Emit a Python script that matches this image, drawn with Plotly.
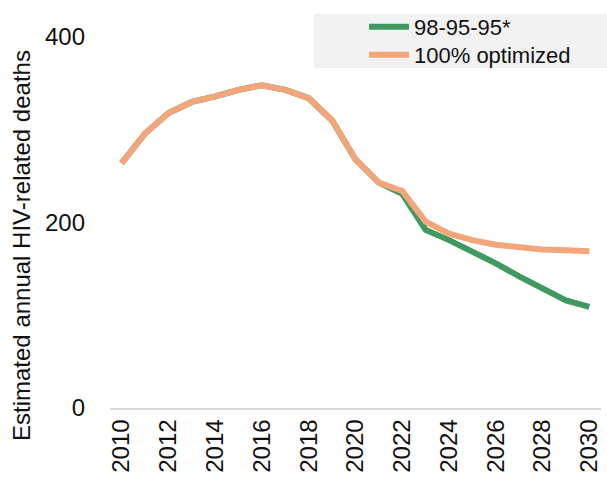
import plotly.graph_objects as go

years = list(range(2010, 2031))
target_989595 = [264, 296, 318, 330, 336, 343, 348, 343, 334, 310, 268, 243, 231,
                 192, 181, 169, 156, 142, 129, 116, 109]
optimized_100 = [264, 296, 318, 330, 336, 343, 348, 343, 334, 310, 268, 243, 234,
                 201, 188, 181, 176, 173, 171, 170, 169]
series_names = ["98-95-95*", "100% optimized"]
y_title = "Estimated annual HIV-related deaths"
x_ticks = list(range(2010, 2031, 2))
y_ticks = [0, 200, 400]

GREEN = "#409A5F"
ORANGE = "#F3A67C"
FONT = "Liberation Sans, Arial, sans-serif"

L, R, T, B = 110, 6, 37, 72
PW, PH = 607 - L - R, 480 - T - B


def px_x(p):
    return (p - L) / PW


def px_y(p):
    return (480 - B - p) / PH


fig = go.Figure()
fig.add_trace(go.Scatter(x=years, y=target_989595, mode="lines", name=series_names[0],
                         line=dict(color=GREEN, width=6), legend="legend"))
fig.add_trace(go.Scatter(x=years, y=optimized_100, mode="lines", name=series_names[1],
                         line=dict(color=ORANGE, width=6), legend="legend2"))

leg_common = dict(xanchor="left", yanchor="middle", bgcolor="rgba(0,0,0,0)",
                  font=dict(size=22, family=FONT), itemwidth=40, borderwidth=0)

fig.update_layout(
    width=607, height=480,
    margin=dict(l=L, r=R, t=T, b=B),
    paper_bgcolor="white", plot_bgcolor="white",
    font=dict(family=FONT, size=24, color="#111111"),
    showlegend=True,
    legend=dict(x=px_x(364), y=px_y(27), **leg_common),
    legend2=dict(x=px_x(364), y=px_y(55), **leg_common),
    shapes=[dict(type="rect", xref="paper", yref="paper", layer="below",
                 x0=px_x(314), x1=px_x(607), y0=px_y(68), y1=px_y(14),
                 fillcolor="#F2F2F2", line=dict(width=0))],
    xaxis=dict(range=[2009.5, 2030.5], tickvals=x_ticks, ticktext=[str(t) for t in x_ticks],
               tickangle=-90, showgrid=False, zeroline=False, showline=True,
               linecolor="#D9D9D9", linewidth=1.5, ticks="", tickfont=dict(size=24)),
    yaxis=dict(range=[0, 400], tickvals=y_ticks, showgrid=False, zeroline=False,
               showline=False, ticks="", ticklabelstandoff=24, tickfont=dict(size=24)),
    annotations=[dict(text=y_title, textangle=-90, xref="paper", yref="paper",
                      x=px_x(22), y=px_y(246), xanchor="center",
                      yanchor="middle", showarrow=False,
                      font=dict(size=24, family=FONT))],
)

fig.write_html("out.html", config={"displayModeBar": False},
               post_script="document.body.style.margin='0';")
